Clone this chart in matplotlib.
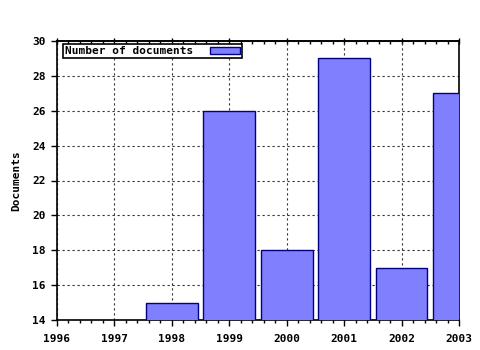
import matplotlib
matplotlib.use("Agg")
import matplotlib.pyplot as plt
from matplotlib.ticker import MultipleLocator, NullFormatter

years = [1998, 1999, 2000, 2001, 2002, 2003]
docs = [15, 26, 18, 29, 17, 27]
xticks = [1996, 1997, 1998, 1999, 2000, 2001, 2002, 2003]
yticks = [14, 16, 18, 20, 22, 24, 26, 28, 30]

plt.rcParams['font.family'] = 'DejaVu Sans Mono'
plt.rcParams['font.weight'] = 'bold'

fig = plt.figure(figsize=(4.8, 3.5), dpi=100)
ax = fig.add_axes([57/480, 30/350, (459-57)/480, (320-41)/350])

ax.bar(years, docs, width=0.9, color='#8080ff', edgecolor='#000080',
       linewidth=1.0, label='Number of documents', zorder=3)

ax.set_xlim(1996, 2003)
ax.set_ylim(14, 30)
ax.set_xticks(xticks)
ax.set_yticks(yticks)
ax.set_xticklabels([str(t) for t in xticks], fontsize=8, fontweight='bold')
ax.set_yticklabels([str(t) for t in yticks], fontsize=8, fontweight='bold')
ax.xaxis.set_minor_locator(MultipleLocator(0.2))
ax.tick_params(axis='x', which='major', direction='out', length=4, width=1, pad=6)
ax.tick_params(axis='x', which='minor', direction='out', length=2, width=1)
ax.tick_params(axis='y', which='major', direction='out', length=4, width=1, pad=4)
ax.grid(True, which='major', color='#333333', linestyle=(0, (2, 2.5)), linewidth=0.8, zorder=0)
ax.set_axisbelow(True)

top = ax.secondary_xaxis('top')
top.set_xticks(xticks)
top.xaxis.set_major_formatter(NullFormatter())
top.xaxis.set_minor_locator(MultipleLocator(0.2))
top.tick_params(axis='x', which='major', direction='inout', length=4, width=1)
top.tick_params(axis='x', which='minor', direction='in', length=2, width=1)
top.spines['top'].set_linewidth(1.2)

for s in ax.spines.values():
    s.set_linewidth(1.2)
    s.set_color('black')

ax.set_ylabel('Documents', fontsize=8, fontweight='bold', labelpad=8)

leg = ax.legend(loc='upper left', bbox_to_anchor=(0.015, 0.99), markerfirst=False,
                fontsize=8, frameon=True, fancybox=False, borderpad=0.2,
                handlelength=2.7, handleheight=0.6, borderaxespad=0, handletextpad=1.5)
leg.get_frame().set_edgecolor('black')
leg.get_frame().set_linewidth(1.2)
leg.get_frame().set_alpha(1)

fig.savefig('out.png', dpi=100)
